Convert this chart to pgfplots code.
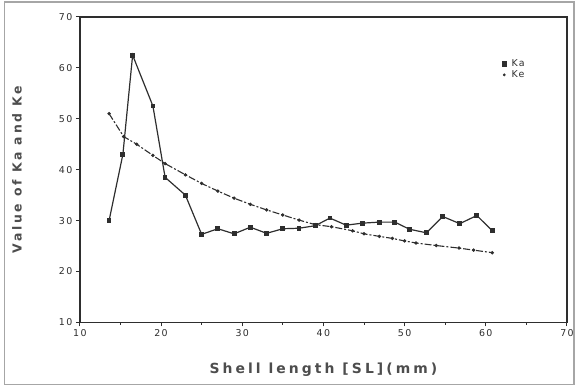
\documentclass[border=0pt]{standalone}
\usepackage{pgfplots}
\pgfplotsset{compat=1.18}
\usepackage{fontspec}
\setmainfont{DejaVu Sans}
\newfontfamily\lblfont[LetterSpace=22]{DejaVu Sans}
\newfontfamily\tickfont[LetterSpace=15]{DejaVu Sans}
\definecolor{ink}{HTML}{2E2E2E}
\begin{document}
\begin{tikzpicture}[x=1bp,y=1bp]
\path (0,0) rectangle (577,387);
\draw[gray!70, line width=1.2bp] (4.5,2) rectangle (575,385);
\begin{axis}[at={(80bp,64bp)}, anchor=south west, scale only axis,
 width=488bp, height=306bp,
 xmin=10, xmax=70, ymin=10, ymax=70,
 xtick={10,20,...,70}, ytick={10,20,...,70},
 tick align=outside, tick pos=left, minor x tick num=1,
 major tick length=4bp, minor tick length=2.5bp,
 axis line style={line width=1.3bp, ink},
 tick style={line width=1bp, ink},
 ticklabel style={font=\tickfont\fontsize{9.5}{11}\selectfont, text=ink},
 /pgf/number format/assume math mode=true,
 xlabel={Shell length [SL](mm)},
 ylabel={Value of Ka and Ke},
 xlabel style={at={(axis description cs:0.5,-0.154)}, anchor=center, font=\lblfont\bfseries\fontsize{14}{16}\selectfont, text=ink!85},
 ylabel style={at={(axis description cs:-0.129,0.5)}, anchor=center, font=\lblfont\bfseries\fontsize{12.5}{14}\selectfont, text=ink!85},
 legend style={draw=none, fill=none, at={(0.86,0.875)}, anchor=north west, font=\tickfont\fontsize{9.5}{11}\selectfont, text=ink, row sep=-1bp},
 legend cell align=left,
]
\addlegendimage{only marks, mark=square*, mark size=2.3bp, ink}
\addlegendentry{\hspace{3bp}Ka}
\addlegendimage{only marks, mark=*, mark size=1.2bp, ink}
\addlegendentry{\hspace{3bp}Ke}
\addplot[forget plot, ink, line width=1.2bp, mark=square*, mark size=1.8bp] coordinates {
(13.6,30) (15.3,43) (16.5,62.5) (19,52.5) (20.5,38.5) (23,35) (25,27.3) (27,28.4) (29,27.4) (31,28.7) (33,27.5) (35,28.4) (37,28.5) (39,29) (40.8,30.5) (42.8,29.1) (44.8,29.5) (46.9,29.7) (48.8,29.7) (50.6,28.3) (52.7,27.6) (54.7,30.8) (56.8,29.4) (58.9,31) (60.8,28)
};
\addplot[forget plot, ink, line width=1.1bp, dash pattern=on 7bp off 2bp on 2bp off 2bp, mark=*, mark size=1.1bp, mark options={solid}] coordinates {
(13.6,51) (15.4,46.5) (17,45) (19,42.8) (20.5,41.2) (23,39) (25,37.3) (27,35.8) (29,34.4) (31,33.2) (33,32.1) (35,31.1) (37,30.1) (39,29.2) (41,28.8) (43.6,28) (45,27.4) (46.9,26.9) (48.5,26.5) (50,26) (51.4,25.6) (53.9,25.1) (56.7,24.6) (58.5,24.2) (60.8,23.7)
};
\end{axis}
\end{tikzpicture}
\end{document}
